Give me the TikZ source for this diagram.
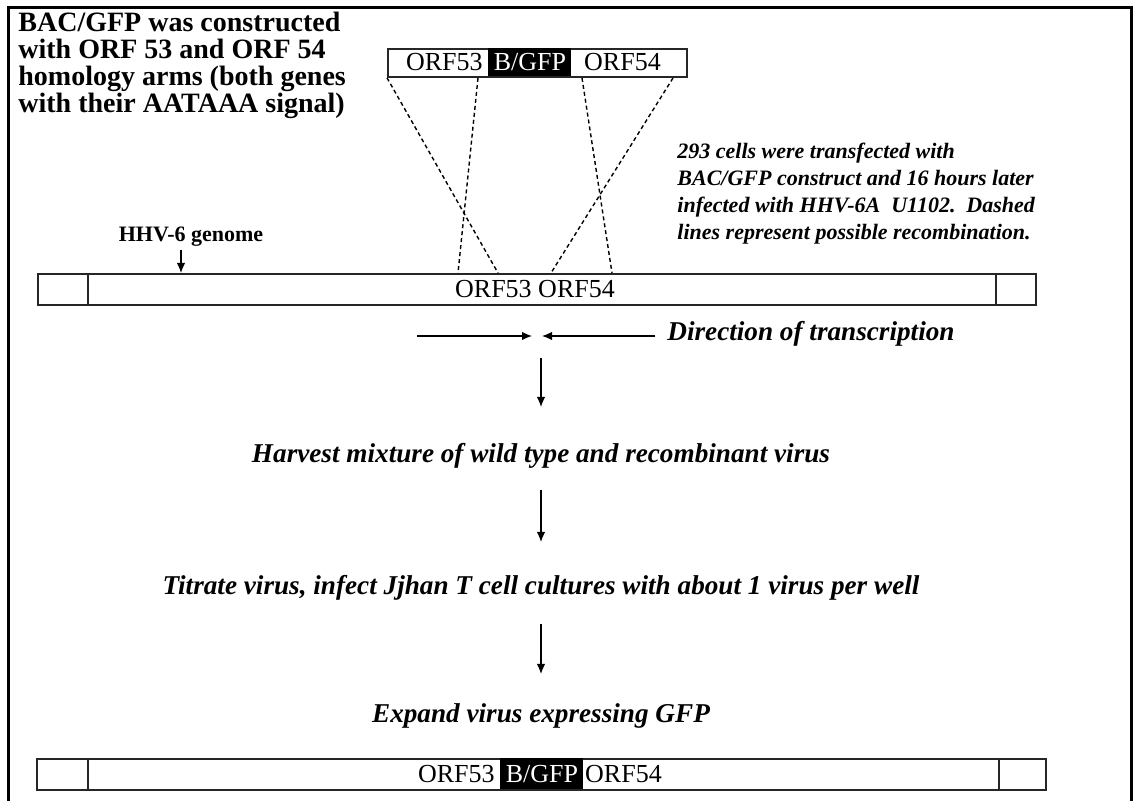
\documentclass[tikz,border=0pt]{standalone}
\usepackage{fontspec}
\setmainfont{Liberation Serif}
\usetikzlibrary{arrows.meta}

\begin{document}
\begin{tikzpicture}[%%
  x=0.5pt,y=-0.5pt,
  boxStyle/.style={draw=black!85,line width=0.9pt,inner sep=0pt,anchor=north west},
  dividerStyle/.style={draw=black!85,line width=0.9pt},
  geneStyle/.style={inner sep=0pt,font=\fontsize{13pt}{15pt}\selectfont},
  gfpStyle/.style={fill=black,text=white,inner sep=0pt,anchor=north west,font=\fontsize{13pt}{15pt}\selectfont},
  stepText/.style={inner sep=0pt,font=\fontsize{13.6pt}{15pt}\selectfont\bfseries\itshape},
  flowArrow/.style={-{Latex[length=5pt,width=4.2pt]},line width=0.55pt},
  recombStyle/.style={dash pattern=on 2pt off 1.5pt,line width=0.7pt}
]
%%
\useasboundingbox (0,0) rectangle (1136,801);
%%
%% Outer frame, open at the bottom.
\draw[line width=1.5pt] (8,801) -- (8,8) -- (1131,8) -- (1131,801);
%%
%% Notes.
\node[anchor=north west,align=left,inner sep=0pt,
  font=\fontsize{14pt}{13.5pt}\selectfont\bfseries] (construct) at (18,12)
  {BAC/GFP was constructed\\with ORF 53 and ORF 54\\homology arms (both genes\\with their AATAAA signal)};
\node[anchor=north west,align=left,inner sep=0pt,
  font=\fontsize{11pt}{13.5pt}\selectfont\bfseries\itshape] (transfect) at (677,143)
  {293 cells were transfected with\\BAC/GFP construct and 16 hours later\\infected with HHV-6A\ \ U1102.\ \ Dashed\\lines represent possible recombination.};
%%
%% The BAC/GFP construct.
\node[boxStyle,minimum width=149.5pt,minimum height=14pt] (insert) at (387,48) {};
\node[gfpStyle,minimum width=41.5pt,minimum height=14pt] (bgfp) at (488,48) {B/GFP};
\node[geneStyle,anchor=east] (insertL) at ([xshift=-2.5pt]bgfp.west) {ORF53};
\node[geneStyle,anchor=west] (insertR) at ([xshift=6pt]bgfp.east) {ORF54};
%%
%% The HHV-6 genome.
\node[boxStyle,minimum width=499pt,minimum height=15.5pt] (genome) at (37,273) {};
\draw[dividerStyle] ([xshift=25.5pt]genome.north west) -- ([xshift=25.5pt]genome.south west);
\draw[dividerStyle] ([xshift=-20.5pt]genome.north east) -- ([xshift=-20.5pt]genome.south east);
\node[geneStyle] (genomeOrf) at (535,289) {ORF53 ORF54};
\node[inner sep=0pt,font=\fontsize{11pt}{13pt}\selectfont\bfseries] (hhv) at (191,237) {HHV-6 genome};
\coordinate (hhvStart) at (181,250);
\draw[flowArrow] (hhvStart) -- (hhvStart |- genome.north);
%%
%% Possible recombination.
\coordinate (armA) at (478,78);
\coordinate (armB) at (582,78);
\coordinate (armC) at (673,78);
\coordinate (siteA) at (458,273);
\coordinate (siteB) at (498,273);
\coordinate (siteC) at (551,273);
\coordinate (siteD) at (612,273);
\draw[recombStyle] (insert.south west) -- (siteB);
\draw[recombStyle] (armA) -- (siteA);
\draw[recombStyle] (armB) -- (siteD);
\draw[recombStyle] (armC) -- (siteC);
%%
%% Direction of transcription.
\coordinate (fwdStart) at (417,336);
\coordinate (fwdEnd) at (532,336);
\coordinate (revStart) at (655,336);
\coordinate (revEnd) at (542,336);
\draw[flowArrow] (fwdStart) -- (fwdEnd);
\draw[flowArrow] (revStart) -- (revEnd);
\node[stepText,anchor=west] (direction) at (667,334) {Direction of transcription};
%%
%% The steps.
\node[stepText] (harvest) at (541,456) {Harvest mixture of wild type and recombinant virus};
\node[stepText] (titrate) at (541,588) {Titrate virus, infect Jjhan T cell cultures with about 1 virus per well};
\node[stepText] (expand) at (541,716) {Expand virus expressing GFP};
\coordinate (stepA) at (541,358);
\coordinate (stepB) at (541,490);
\coordinate (stepC) at (541,624);
\draw[flowArrow] (stepA) -- (stepA |- 0,407);
\draw[flowArrow] (stepB) -- (stepB |- 0,542);
\draw[flowArrow] (stepC) -- (stepC |- 0,674);
%%
%% The recombinant genome.
\node[boxStyle,minimum width=504.5pt,minimum height=15.5pt] (genomeGfp) at (36,758) {};
\draw[dividerStyle] ([xshift=26pt]genomeGfp.north west) -- ([xshift=26pt]genomeGfp.south west);
\draw[dividerStyle] ([xshift=-24pt]genomeGfp.north east) -- ([xshift=-24pt]genomeGfp.south east);
\node[gfpStyle,minimum width=41.5pt,minimum height=15.5pt] (bgfpGenome) at (500,758) {B/GFP};
\node[geneStyle,anchor=east] (genomeGfpL) at ([xshift=-2.5pt]bgfpGenome.west) {ORF53};
\node[geneStyle,anchor=west] (genomeGfpR) at ([xshift=0.5pt]bgfpGenome.east) {ORF54};
\end{tikzpicture}
\end{document}
